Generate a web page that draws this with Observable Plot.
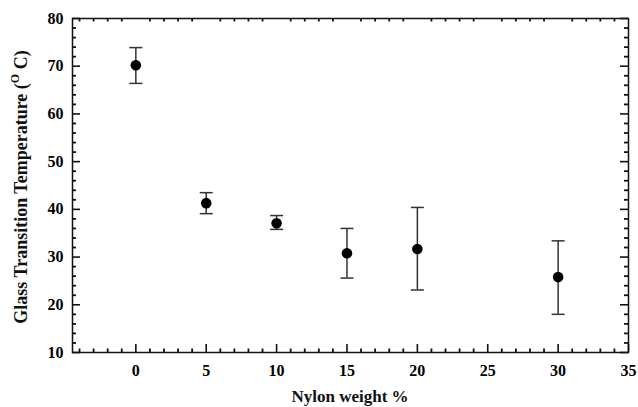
<!DOCTYPE html>
<html>
<head>
<meta charset="utf-8">
<script src="https://cdn.jsdelivr.net/npm/d3@7"></script>
<script src="https://cdn.jsdelivr.net/npm/@observablehq/plot@0.6"></script>
<style>
  html, body { margin: 0; padding: 0; background: #fff; }
  #chart { width: 638px; height: 407px; }
</style>
</head>
<body>
<div id="chart"></div>
<script>
// Glass transition temperature versus nylon content, with error bars
const nylonWeight = [0, 5, 10, 15, 20, 30];
const tgMean = [70.2, 41.3, 37.1, 30.8, 31.7, 25.8];
const tgLow  = [66.4, 39.1, 35.8, 25.6, 23.1, 18.0];
const tgHigh = [73.9, 43.5, 38.7, 36.0, 40.4, 33.4];

const xTickLabels = [0, 5, 10, 15, 20, 25, 30, 35];
const yTickLabels = [10, 20, 30, 40, 50, 60, 70, 80];
const xMinorTicks = d3.range(-4, 35).filter(v => v % 5 !== 0);
const yMinorTicks = d3.range(12, 80, 2).filter(v => v % 10 !== 0);

const rows = nylonWeight.map((x, i) => ({x, tg: tgMean[i], lo: tgLow[i], hi: tgHigh[i]}));

const W = 638, H = 407;
const mTop = 18, mRight = 10, mBottom = 55, mLeft = 72;
const frameW = W - mLeft - mRight, frameH = H - mTop - mBottom;
const majorLen = 8, minorLen = 3.5;
const font = "Liberation Serif";

// horizontal cap symbol for the error bars
const cap = {draw(ctx) { ctx.moveTo(-6.5, 0); ctx.lineTo(6.5, 0); }};

const chart = Plot.plot({
  width: W,
  height: H,
  marginTop: mTop, marginRight: mRight, marginBottom: mBottom, marginLeft: mLeft,
  style: {fontFamily: font, fontWeight: "bold", fontSize: "16px", color: "#000", background: "#fff"},
  x: {domain: [-4.5, 35]},
  y: {domain: [10, 80]},
  marks: [
    // inward ticks: bottom and top
    Plot.tickX(xTickLabels, {x: d => d, insetTop: frameH - majorLen, stroke: "#111", strokeWidth: 1.6}),
    Plot.tickX(xMinorTicks, {x: d => d, insetTop: frameH - minorLen, stroke: "#111", strokeWidth: 1.8}),
    Plot.tickX(xMinorTicks, {x: d => d, insetBottom: frameH - minorLen, stroke: "#111", strokeWidth: 1.8}),
    // inward ticks: left and right
    Plot.tickY(yTickLabels, {y: d => d, insetRight: frameW - majorLen, stroke: "#111", strokeWidth: 1.6}),
    Plot.tickY(yMinorTicks, {y: d => d, insetRight: frameW - minorLen - 0.5, stroke: "#111", strokeWidth: 1.8}),
    Plot.tickY(yTickLabels, {y: d => d, insetLeft: frameW - majorLen, stroke: "#111", strokeWidth: 1.6}),
    Plot.tickY(yMinorTicks, {y: d => d, insetLeft: frameW - minorLen - 0.5, stroke: "#111", strokeWidth: 1.8}),
    Plot.axisX(xTickLabels, {tickSize: 0, tickPadding: 12, fontSize: 16, label: null}),
    Plot.axisY(yTickLabels, {tickSize: 0, tickPadding: 9, fontSize: 16, label: null}),
    Plot.frame({stroke: "#111", strokeWidth: 1.5}),
    // error bars
    Plot.ruleX(rows, {x: "x", y1: "lo", y2: "hi", stroke: "#333", strokeWidth: 1.5}),
    Plot.dot(rows, {x: "x", y: "hi", symbol: cap, r: 4, stroke: "#333", strokeWidth: 1.5}),
    Plot.dot(rows, {x: "x", y: "lo", symbol: cap, r: 4, stroke: "#333", strokeWidth: 1.5}),
    // mean values
    Plot.dot(rows, {x: "x", y: "tg", r: 5.3, fill: "#000", stroke: "none"})
  ]
});

const svg = d3.select(chart);

// tick label size and weight
svg.selectAll('g[aria-label$="tick label"]')
  .attr("font-size", 16)
  .style("font-size", "16px")
  .attr("font-weight", "bold")
  .attr("fill", "#000");

// x axis title
svg.append("text")
  .attr("x", mLeft + frameW / 2)
  .attr("y", H - 5)
  .attr("text-anchor", "middle")
  .attr("font-family", font)
  .attr("font-weight", "bold")
  .attr("font-size", 17)
  .attr("fill", "#111")
  .text("Nylon weight %");

// y axis title with superscript degree mark
const yTitle = svg.append("text")
  .attr("transform", `translate(27,${mTop + frameH / 2 + 2}) rotate(-90)`)
  .attr("text-anchor", "middle")
  .attr("font-family", font)
  .attr("font-weight", "bold")
  .attr("font-size", 18)
  .attr("fill", "#111");
yTitle.append("tspan").text("Glass Transition Temperature (");
yTitle.append("tspan").attr("font-size", 12).attr("dy", -8).text("O");
yTitle.append("tspan").attr("dy", 8).text(" C)");

document.getElementById("chart").appendChild(chart);
</script>
</body>
</html>
